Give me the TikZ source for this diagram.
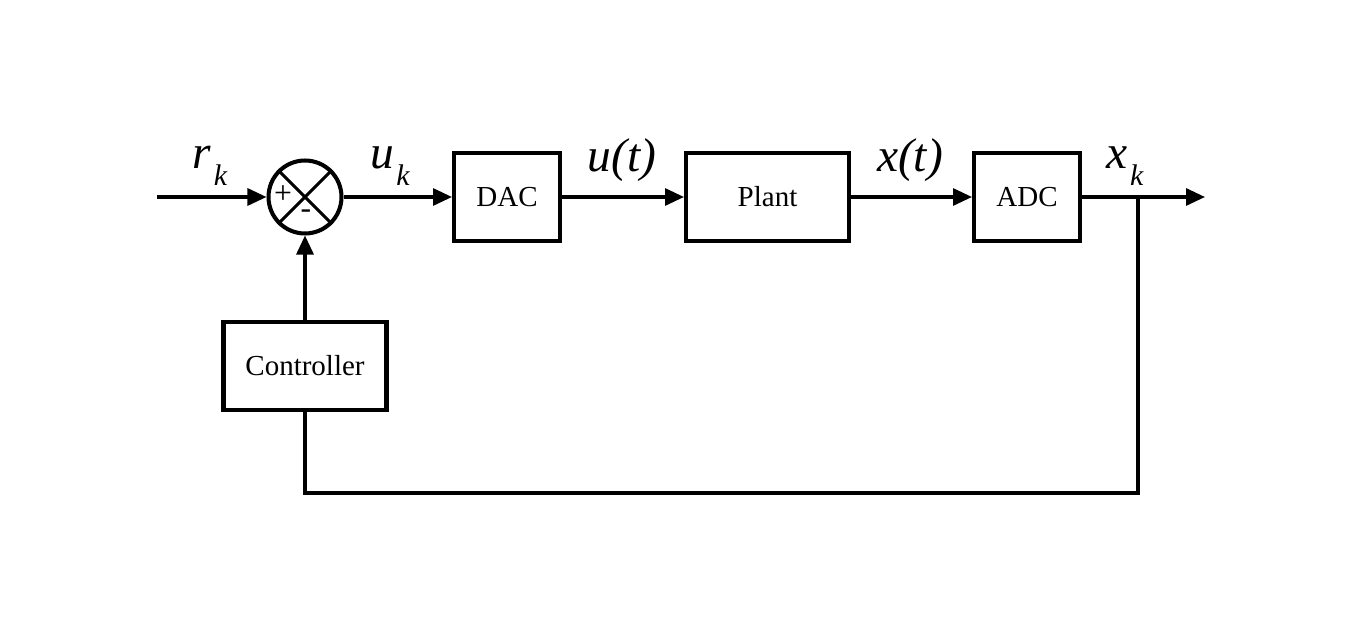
\documentclass[tikz,border=0pt]{standalone}
\usepackage{fontspec}
\setmainfont{Liberation Serif}
\usetikzlibrary{arrows.meta,positioning}

\tikzset{
    block/.style={draw, line width=2.3pt, minimum height=1.76cm, inner sep=0pt,
        font=\fontsize{16.5}{18}\selectfont},
    sumnode/.style={draw, circle, line width=2.3pt, minimum size=1.46cm, inner sep=0pt},
    wire/.style={line width=1.8pt},
    sig/.style={wire, -{Triangle[length=0.38cm,width=0.34cm]}},
    sign/.style={font=\fontsize{18}{20}\selectfont, inner sep=0pt},
    lbl/.style={font=\fontsize{27}{29}\selectfont\itshape, inner sep=0pt}
}
\newcommand{\subsig}[2]{#1\hspace{0.05em}\raisebox{-0.35em}{\fontsize{17}{18}\selectfont #2}}

\begin{document}
\begin{tikzpicture}[x=0.02cm, y=-0.02cm]
        \useasboundingbox (0,0) rectangle (1355,624);
        % blocks
        \coordinate (in) at (157,197);
        \node[sumnode] (sum) at (305,197) {};
        \draw[wire] (sum.north east) -- (sum.south west) (sum.north west) -- (sum.south east);
        \node[sign] (plus) at (283,195) {+};
        \node[sign] (minus) at (306,214) {-};
        \node[block, minimum width=2.12cm] (dac) at (507,197) {DAC};
        \node[block, minimum width=3.26cm] (plant) at (767.5,197) {Plant};
        \node[block, minimum width=2.12cm] (adc) at (1027,197) {ADC};
        \node[block, minimum width=3.26cm] (ctrl) at (305,366) {Controller};
        \coordinate (out) at (1205,197);
        \coordinate (split) at (1138,197);
        \coordinate (corner) at (305,493);

        % signals
        \draw[sig] (in) -- (sum);
        \draw[sig] (sum) -- (dac);
        \draw[sig] (dac) -- (plant);
        \draw[sig] (plant) -- (adc);
        \draw[sig] (adc) -- (out);
        \draw[wire] (split) |- (corner) -- (ctrl.south);
        \draw[sig] (ctrl) -- (sum);

        % labels
        \node[lbl] (rk) at (210,166) {\subsig{r}{k}};
        \node[lbl] (uk) at (390,166) {\subsig{u}{k}};
        \node[lbl] (ut) at (622,160) {u(t)};
        \node[lbl] (xt) at (910,160) {x(t)};
        \node[lbl] (xk) at (1125,166) {\subsig{x}{k}};
\end{tikzpicture}
\end{document}
